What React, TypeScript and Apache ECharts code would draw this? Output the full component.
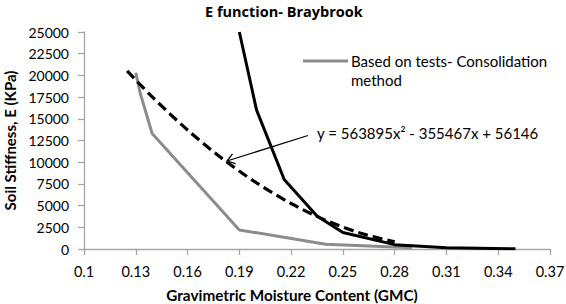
import React, { useEffect, useRef } from "react";
import * as echarts from "echarts";

const titleText = "E function- Braybrook";
const xAxisTitle = "Gravimetric Moisture Content (GMC)";
const yAxisTitle = "Soil Stiffness, E (KPa)";
const legendLines = ["Based on tests- Consolidation", "method"];
const equationText = "y = 563895x\u00B2 - 355467x + 56146";

const xMin = 0.1;
const xMax = 0.37;
const xStep = 0.03;
const yMin = 0;
const yMax = 25000;
const yStep = 2500;

// Based on tests - Consolidation method (grey)
const gmcTests = [0.13, 0.1325, 0.1395, 0.19, 0.24, 0.29];
const eTests = [20300, 18000, 13300, 2200, 550, 150];

// Solid black curve
const gmcCurve = [0.19, 0.2, 0.216, 0.235, 0.25, 0.28, 0.31, 0.35];
const eCurve = [25000, 16000, 8000, 3800, 1900, 500, 150, 30];

// Dashed trend line
const gmcTrend = [0.125, 0.14, 0.16, 0.18, 0.2, 0.22, 0.24, 0.26, 0.28];
const eTrend = [20520, 17430, 13710, 10430, 7610, 5240, 3310, 1840, 820];

const FONT = "Lato, 'Open Sans', sans-serif";

const shift = (x: number) => Math.round((x - xMin) * 100000) / 100000;
const pairs = (xs: number[], ys: number[]) => xs.map((x, i) => [shift(x), ys[i]]);

export default function App() {
  const ref = useRef<HTMLDivElement>(null);
  useEffect(() => {
    if (!ref.current) return;
    const chart = echarts.init(ref.current, null, { renderer: "svg" });
    const axisColor = "#a6a6a6";
    const tip = [227, 161];
    chart.setOption({
      animation: false,
      backgroundColor: "#ffffff",
      textStyle: { fontFamily: FONT },
      grid: { left: 84, top: 32, width: 466, height: 217, outerBoundsMode: "none" },
      xAxis: {
        type: "value",
        min: 0,
        max: Math.round((xMax - xMin) * 100) / 100,
        interval: xStep,
        axisLine: { show: true, onZero: false, lineStyle: { color: axisColor, width: 1.3 } },
        axisTick: { show: true, length: 6, lineStyle: { color: axisColor, width: 1.3 } },
        splitLine: { show: false },
        axisLabel: {
          margin: 15,
          fontSize: 14.5,
          color: "#000",
          fontFamily: FONT,
          formatter: (v: number) => String(Number((v + xMin).toFixed(2))),
        },
      },
      yAxis: {
        type: "value",
        min: yMin,
        max: yMax,
        interval: yStep,
        name: yAxisTitle,
        nameLocation: "middle",
        nameGap: 66,
        nameRotate: 90,
        nameTextStyle: { fontSize: 15, fontWeight: "bold", color: "#000", fontFamily: FONT },
        axisLine: { show: true, lineStyle: { color: axisColor, width: 1.3 } },
        axisTick: { show: true, length: 6, lineStyle: { color: axisColor, width: 1.3 } },
        splitLine: { show: false },
        axisLabel: {
          margin: 15,
          fontSize: 14,
          color: "#000",
          fontFamily: FONT,
          formatter: (v: number) => String(v),
        },
      },
      series: [
        {
          type: "line",
          name: legendLines.join(" "),
          data: pairs(gmcTests, eTests),
          showSymbol: false,
          lineStyle: { color: "#8c8c8c", width: 3 },
          z: 2,
        },
        {
          type: "line",
          name: "Curve",
          data: pairs(gmcCurve, eCurve),
          showSymbol: false,
          lineStyle: { color: "#000", width: 3 },
          z: 3,
        },
        {
          type: "line",
          name: "Trend",
          data: pairs(gmcTrend, eTrend),
          showSymbol: false,
          smooth: 0.3,
          lineStyle: { color: "#000", width: 3.2, type: [10, 5] },
          z: 4,
        },
      ],
      graphic: [
        {
          type: "text",
          x: 205,
          y: 11,
          style: {
            text: titleText,
            fontSize: 14.5,
            fontWeight: "bold",
            fill: "#000",
            fontFamily: "'Open Sans', Lato, sans-serif",
            align: "left",
            verticalAlign: "middle",
          },
        },
        {
          type: "text",
          x: 292,
          y: 295,
          style: {
            text: xAxisTitle,
            fontSize: 15.3,
            fontWeight: "bold",
            fill: "#000",
            fontFamily: FONT,
            align: "center",
            verticalAlign: "middle",
          },
        },
        {
          type: "line",
          shape: { x1: 303, y1: 61, x2: 348, y2: 61 },
          style: { stroke: "#8c8c8c", lineWidth: 3 },
        },
        {
          type: "text",
          x: 351,
          y: 51,
          style: {
            text: legendLines.join("\n"),
            fontSize: 15,
            lineHeight: 19,
            fill: "#000",
            fontFamily: FONT,
            verticalAlign: "top",
          },
        },
        {
          type: "text",
          x: 317,
          y: 133,
          style: {
            text: equationText,
            fontSize: 15,
            fill: "#000",
            fontFamily: FONT,
            verticalAlign: "middle",
          },
        },
        {
          type: "line",
          shape: { x1: 308, y1: 135.5, x2: tip[0], y2: tip[1] },
          style: { stroke: "#000", lineWidth: 1.3 },
        },
        {
          type: "polyline",
          shape: {
            points: [
              [tip[0] + 5.5, tip[1] - 7.1],
              [tip[0], tip[1]],
              [tip[0] + 8.6, tip[1] + 2.7],
            ],
          },
          style: { stroke: "#000", lineWidth: 1.3, fill: null },
        },
      ],
    });
    return () => chart.dispose();
  }, []);
  return (
    <div
      ref={ref}
      style={{ position: "fixed", left: 0, top: 0, width: 566, height: 304, background: "#fff" }}
    />
  );
}
